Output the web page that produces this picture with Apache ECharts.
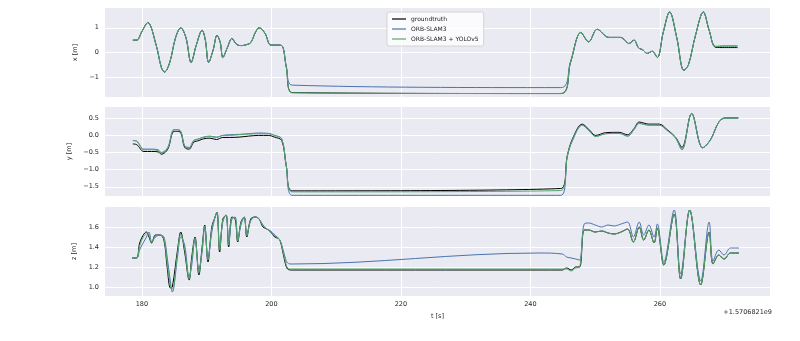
<!DOCTYPE html>
<html>
<head>
<meta charset="utf-8">
<script src="https://cdn.jsdelivr.net/npm/echarts@6/dist/echarts.min.js"></script>
<style>
  html, body { margin: 0; padding: 0; background: #fff; }
  #chart { width: 800px; height: 341px; }
</style>
</head>
<body>
<div id="chart"></div>
<script>
const SERIES_NAMES = ['groundtruth', 'ORB-SLAM3', 'ORB-SLAM3 + YOLOv5']
const X_TICKS = [180, 200, 220, 240, 260]
const X_OFFSET_TEXT = '+1.5706821e9'

// x [m]
const T_X = [178.6, 179.2, 180.0, 180.9, 182.2, 183.0, 183.5, 184.3, 185.2, 186.0,
  186.8, 187.6, 188.4, 189.3, 189.8, 190.3, 191.0, 191.6, 192.1, 192.5,
  193.2, 193.9, 194.4, 194.8, 195.4, 195.9, 196.8, 197.5, 198.1, 199.0,
  199.9, 200.8, 201.6, 202.3, 203.2, 244.7, 246.2, 247.8, 249.0, 250.3,
  252.1, 253.9, 254.6, 255.2, 256.0, 256.7, 257.4, 258.0, 258.8, 259.6,
  260.5, 261.5, 262.6, 263.7, 264.4, 265.5, 266.7, 267.6, 268.6, 270.0, 272.0]
const GT_X = [0.50, 0.50, 0.85, 1.21, 0.30, -0.60, -0.79, -0.40, 0.60, 1.00,
  0.60, -0.40, 0.30, 0.90, 0.50, -0.40, 0.10, 0.70, 0.40, -0.20,
  0.20, 0.57, 0.40, 0.30, 0.28, 0.30, 0.40, 0.80, 1.00, 0.78,
  0.30, 0.30, 0.28, -0.60, -1.62, -1.66, -0.40, 0.81, 0.43, 0.94,
  0.61, 0.61, 0.50, 0.36, 0.50, 0.19, 0.10, -0.04, 0.05, -0.20,
  0.80, 1.64, 0.60, -0.72, -0.50, 0.70, 1.64, 0.90, 0.21, 0.20, 0.20]
const ORB_X = [0.50, 0.50, 0.85, 1.21, 0.30, -0.60, -0.79, -0.40, 0.60, 1.00,
  0.60, -0.40, 0.30, 0.90, 0.50, -0.40, 0.10, 0.70, 0.40, -0.20,
  0.20, 0.57, 0.40, 0.30, 0.28, 0.30, 0.40, 0.80, 1.00, 0.78,
  0.30, 0.30, 0.28, -0.55, -1.32, -1.42, -0.35, 0.81, 0.43, 0.94,
  0.61, 0.61, 0.50, 0.36, 0.50, 0.19, 0.10, -0.04, 0.05, -0.20,
  0.80, 1.64, 0.60, -0.72, -0.50, 0.70, 1.64, 0.90, 0.25, 0.27, 0.27]
const YOLO_X = [0.50, 0.50, 0.85, 1.21, 0.30, -0.60, -0.79, -0.40, 0.60, 1.00,
  0.60, -0.40, 0.30, 0.90, 0.50, -0.40, 0.10, 0.70, 0.40, -0.20,
  0.20, 0.57, 0.40, 0.30, 0.28, 0.30, 0.40, 0.80, 1.00, 0.78,
  0.30, 0.30, 0.28, -0.60, -1.63, -1.66, -0.40, 0.81, 0.43, 0.94,
  0.61, 0.61, 0.50, 0.36, 0.50, 0.19, 0.10, -0.04, 0.05, -0.20,
  0.80, 1.64, 0.60, -0.72, -0.50, 0.70, 1.64, 0.90, 0.24, 0.25, 0.25]

// y [m]
const T_Y = [178.6, 179.2, 180.3, 181.5, 182.5, 183.0, 184.0, 184.8, 185.3, 186.0,
  186.6, 187.3, 188.0, 188.8, 189.5, 190.5, 191.5, 192.5, 193.5, 195.0,
  196.5, 198.0, 199.5, 200.5, 201.6, 202.3, 203.2, 244.7, 245.7, 246.5,
  248.0, 249.0, 250.1, 251.6, 253.7, 255.0, 256.0, 256.8, 258.3, 259.9,
  261.1, 262.4, 263.4, 264.9, 266.6, 267.8, 269.1, 270.1, 272.1]
const GT_Y = [-0.25, -0.27, -0.47, -0.47, -0.48, -0.55, -0.40, 0.10, 0.12, 0.08,
  -0.35, -0.40, -0.20, -0.15, -0.10, -0.08, -0.12, -0.06, -0.06, -0.05,
  -0.02, 0.00, 0.00, -0.05, -0.15, -0.90, -1.62, -1.55, -0.59, -0.10,
  0.33, 0.18, 0.00, 0.08, 0.09, 0.02, 0.20, 0.39, 0.33, 0.33,
  0.17, -0.05, -0.35, 0.64, -0.36, -0.13, 0.39, 0.51, 0.51]
const ORB_Y = [-0.15, -0.17, -0.40, -0.40, -0.42, -0.50, -0.35, 0.15, 0.17, 0.12,
  -0.30, -0.35, -0.15, -0.10, -0.05, -0.02, -0.05, 0.00, 0.02, 0.03,
  0.05, 0.07, 0.06, 0.00, -0.10, -0.90, -1.75, -1.75, -0.62, -0.15,
  0.30, 0.15, -0.03, 0.05, 0.06, -0.02, 0.17, 0.35, 0.30, 0.30,
  0.15, -0.07, -0.42, 0.64, -0.36, -0.13, 0.39, 0.51, 0.51]
const YOLO_Y = [-0.15, -0.17, -0.42, -0.42, -0.44, -0.52, -0.37, 0.15, 0.17, 0.12,
  -0.32, -0.36, -0.16, -0.10, -0.06, -0.03, -0.06, 0.00, 0.00, 0.02,
  0.04, 0.05, 0.05, 0.00, -0.10, -0.90, -1.65, -1.61, -0.60, -0.13,
  0.30, 0.15, -0.03, 0.05, 0.06, -0.02, 0.17, 0.35, 0.30, 0.30,
  0.15, -0.07, -0.40, 0.64, -0.36, -0.13, 0.39, 0.51, 0.51]

// z [m]
const T_Z = [178.5, 179.2, 179.7, 180.7, 181.1, 181.5, 182.1, 182.8, 183.4, 183.9,
  184.4, 184.7, 185.5, 186.0, 186.6, 187.3, 187.7, 188.2, 188.8, 189.3,
  189.7, 190.2, 190.8, 191.3, 191.6, 192.0, 192.5, 193.0, 193.4, 193.9,
  194.4, 194.8, 195.3, 195.8, 196.2, 196.8, 197.5, 198.1, 198.7, 199.3,
  199.9, 200.5, 201.2, 201.6, 202.1, 202.5, 203.2, 241.3, 244.9, 245.6,
  246.3, 247.0, 247.6, 248.3, 249.0, 250.0, 251.0, 252.0, 252.9, 254.0,
  255.0, 255.9, 256.8, 257.5, 258.3, 259.1, 259.6, 260.6, 262.2, 263.2,
  264.6, 266.3, 267.6, 268.2, 269.1, 269.9, 270.9, 272.2]
const GT_Z = [1.29, 1.29, 1.45, 1.55, 1.50, 1.44, 1.52, 1.52, 1.47, 1.20,
  0.99, 1.00, 1.37, 1.55, 1.35, 1.07, 1.30, 1.50, 1.12, 1.40,
  1.62, 1.25, 1.60, 1.70, 1.75, 1.35, 1.68, 1.72, 1.40, 1.70,
  1.68, 1.45, 1.65, 1.70, 1.50, 1.68, 1.70, 1.68, 1.60, 1.58,
  1.55, 1.50, 1.48, 1.40, 1.25, 1.18, 1.17, 1.17, 1.17, 1.19,
  1.17, 1.20, 1.20, 1.57, 1.57, 1.55, 1.56, 1.54, 1.53, 1.55,
  1.58, 1.45, 1.60, 1.47, 1.57, 1.44, 1.59, 1.22, 1.73, 1.08,
  1.77, 1.02, 1.55, 1.23, 1.32, 1.28, 1.34, 1.34]
const ORB_Z = [1.29, 1.29, 1.38, 1.50, 1.55, 1.45, 1.50, 1.52, 1.50, 1.30,
  1.05, 0.95, 1.30, 1.50, 1.42, 1.10, 1.22, 1.48, 1.18, 1.35,
  1.60, 1.30, 1.55, 1.70, 1.75, 1.40, 1.65, 1.72, 1.45, 1.68,
  1.70, 1.48, 1.62, 1.70, 1.52, 1.66, 1.70, 1.68, 1.62, 1.58,
  1.56, 1.52, 1.48, 1.42, 1.30, 1.24, 1.23, 1.34, 1.33, 1.30,
  1.29, 1.28, 1.27, 1.63, 1.64, 1.62, 1.60, 1.62, 1.61, 1.63,
  1.65, 1.50, 1.65, 1.52, 1.62, 1.50, 1.63, 1.25, 1.77, 1.13,
  1.77, 1.06, 1.65, 1.26, 1.37, 1.32, 1.39, 1.39]
const YOLO_Z = [1.29, 1.29, 1.42, 1.53, 1.52, 1.45, 1.51, 1.52, 1.48, 1.24,
  1.01, 0.98, 1.34, 1.53, 1.38, 1.08, 1.27, 1.49, 1.14, 1.38,
  1.61, 1.27, 1.58, 1.70, 1.75, 1.37, 1.67, 1.72, 1.42, 1.69,
  1.69, 1.46, 1.64, 1.70, 1.51, 1.67, 1.70, 1.68, 1.61, 1.58,
  1.55, 1.51, 1.48, 1.41, 1.27, 1.19, 1.18, 1.18, 1.18, 1.18,
  1.16, 1.19, 1.20, 1.57, 1.57, 1.55, 1.56, 1.54, 1.53, 1.55,
  1.58, 1.45, 1.60, 1.47, 1.57, 1.44, 1.59, 1.22, 1.73, 1.08,
  1.77, 1.02, 1.55, 1.23, 1.32, 1.28, 1.34, 1.34]

const PANELS = [
  { name: 'x [m]', t: T_X, values: [GT_X, ORB_X, YOLO_X], min: -1.8, max: 1.8, ticks: [-1, 0, 1], digits: 0 },
  { name: 'y [m]', t: T_Y, values: [GT_Y, ORB_Y, YOLO_Y], min: -1.77, max: 0.83, ticks: [-1.5, -1.0, -0.5, 0.0, 0.5], digits: 1 },
  { name: 'z [m]', t: T_Z, values: [GT_Z, ORB_Z, YOLO_Z], min: 0.91, max: 1.8, ticks: [1.0, 1.2, 1.4, 1.6], digits: 1 },
]

const COLORS = ['#000000', '#4C72B0', '#55A868']
const GRID_TOPS = [8, 107, 207]
const GRID_HEIGHT = 89
const FONT = 'DejaVu Sans'
const TEXT_COLOR = '#262626'

const fmt = (v, digits) => {
  const s = Math.abs(v).toFixed(digits)
  return v < 0 ? '\u2212' + s : s
}

const chart = echarts.init(document.getElementById('chart'))

chart.setOption({
  animation: false,
  backgroundColor: '#fff',
  grid: PANELS.map((p, i) => ({
    left: 105,
    right: 30,
    top: GRID_TOPS[i],
    height: GRID_HEIGHT,
    show: true,
    backgroundColor: '#EAEAF2',
    borderWidth: 0,
  })),
  legend: {
    data: SERIES_NAMES,
    orient: 'vertical',
    left: 387,
    top: 12,
    padding: [3, 5, 3, 5],
    itemGap: 2,
    itemWidth: 14,
    itemHeight: 1.2,
    icon: 'rect',
    backgroundColor: 'rgba(255,255,255,0.8)',
    borderColor: '#cccccc',
    borderWidth: 0.8,
    borderRadius: 2,
    textStyle: { fontFamily: FONT, fontSize: 6, color: TEXT_COLOR, lineHeight: 8 },
  },
  xAxis: PANELS.map((p, i) => ({
    type: 'value',
    gridIndex: i,
    min: 174.3,
    max: 277,
    name: i === 2 ? 't [s]' : '',
    nameLocation: 'middle',
    nameGap: 17,
    nameTextStyle: { fontFamily: FONT, fontSize: 6.5, color: TEXT_COLOR },
    axisLine: { show: false },
    axisTick: { show: false, customValues: X_TICKS },
    axisLabel: {
      show: i === 2,
      customValues: X_TICKS,
      fontFamily: FONT,
      fontSize: 6.5,
      color: TEXT_COLOR,
      margin: 5,
    },
    splitLine: { show: true, lineStyle: { color: '#ffffff', width: 1 } },
  })),
  yAxis: PANELS.map((p, i) => ({
    type: 'value',
    gridIndex: i,
    min: p.min,
    max: p.max,
    name: p.name,
    nameLocation: 'middle',
    nameGap: 21,
    nameTextStyle: { fontFamily: FONT, fontSize: 6.5, color: TEXT_COLOR },
    axisLine: { show: false },
    axisTick: { show: false, customValues: p.ticks },
    axisLabel: {
      customValues: p.ticks,
      formatter: (v) => fmt(v, p.digits),
      fontFamily: FONT,
      fontSize: 6.5,
      color: TEXT_COLOR,
      margin: 6,
    },
    splitLine: { show: true, lineStyle: { color: '#ffffff', width: 1 } },
  })),
  series: PANELS.flatMap((p, i) =>
    SERIES_NAMES.map((name, k) => ({
      name,
      type: 'line',
      xAxisIndex: i,
      yAxisIndex: i,
      symbol: 'none',
      smooth: 0.35,
      data: p.t.map((t, j) => [t, p.values[k][j]]),
      lineStyle: { color: COLORS[k], width: 1 },
      itemStyle: { color: COLORS[k] },
    }))
  ),
  graphic: [
    {
      type: 'text',
      right: 28,
      top: 309,
      style: { text: X_OFFSET_TEXT, font: '6.5px "DejaVu Sans"', fill: TEXT_COLOR },
    },
  ],
})
</script>
</body>
</html>
